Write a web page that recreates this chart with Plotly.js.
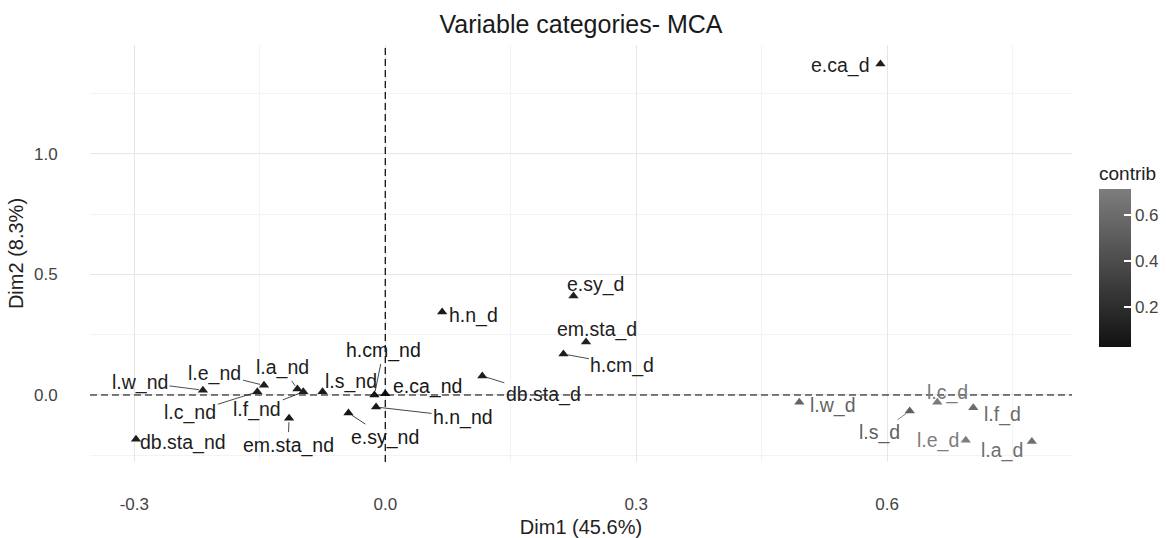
<!DOCTYPE html>
<html><head><meta charset="utf-8">
<script src="https://cdn.plot.ly/plotly-3.0.1.min.js"></script>
<style>html,body{margin:0;padding:0;background:#fff}</style>
</head><body><div id="chart" style="width:1166px;height:538px"></div>
<script>
// ---- data ----
const categories = ["e.ca_d","e.sy_d","em.sta_d","h.cm_d","h.n_d","db.sta_d","h.cm_nd","e.ca_nd","h.n_nd","e.sy_nd",
  "l.w_nd","l.e_nd","l.a_nd","l.c_nd","l.f_nd","l.s_nd","em.sta_nd","db.sta_nd",
  "l.w_d","l.s_d","l.c_d","l.f_d","l.e_d","l.a_d"];
const dim1 = [0.592,0.225,0.240,0.213,0.068,0.116,-0.013,0.000,-0.011,-0.044,
  -0.218,-0.145,-0.105,-0.153,-0.098,-0.075,-0.115,-0.298,
  0.495,0.627,0.660,0.703,0.694,0.773];
const dim2 = [1.373,0.411,0.220,0.170,0.344,0.079,0.000,0.005,-0.050,-0.075,
  0.020,0.040,0.025,0.013,0.013,0.013,-0.096,-0.184,
  -0.030,-0.066,-0.030,-0.053,-0.188,-0.193];
const contrib = [0.10,0.12,0.12,0.10,0.08,0.10,0.05,0.05,0.06,0.06,
  0.12,0.10,0.10,0.10,0.10,0.08,0.07,0.10,
  0.55,0.52,0.70,0.60,0.71,0.62];
const xTickVals = [-0.3,0.0,0.3,0.6], xTickText = ["-0.3","0.0","0.3","0.6"];
const yTickVals = [0.0,0.5,1.0], yTickText = ["0.0","0.5","1.0"];
const cbTickVals = [0.2,0.4,0.6], cbTickText = ["0.2","0.4","0.6"];

// ---- label placement (pixel offsets, repel-style) ----
const labelDx = [-40,22,11,59,31,61,9,42,87,37,-63,-49,-15,-67,-46,28,-1,47,34,-30,10,29,-28,-30];
const labelDy = [1,-11,-12,11,3,19,-44,-7,10,24,-8,-12,-21,21,18,-10,27,3,3,22,-10,7,0,9];
const hasSegment = [0,0,0,1,0,1,1,0,1,1,1,1,1,1,1,0,1,0,0,1,0,0,0,0];

// ---- styles ----
const FONT = "Liberation Sans, Arial, sans-serif";
const cmin = 0.026, cmax = 0.713;
const lowC = [18,18,18], highC = [125,125,125];
const rgb = c => "rgb(" + c.map(Math.round).join(",") + ")";
function colorFor(v){
  let t = Math.max(0, Math.min(1, (v - cmin) / (cmax - cmin)));
  return rgb(lowC.map((l,i)=> l + (highC[i]-l)*t));
}

const trace = {
  type: "scatter", mode: "markers",
  x: dim1, y: dim2, text: categories,
  marker: {
    symbol: "triangle-up", size: 9,
    color: contrib, cmin: cmin, cmax: cmax,
    colorscale: [[0, rgb(lowC)], [1, rgb(highC)]],
    showscale: true,
    colorbar: {
      title: {text: "contrib", side: "top", font: {family: FONT, size: 19, color: "#222"}},
      x: 1.0275, xanchor: "left", xpad: 0, ypad: 0,
      y: 0.2758, yanchor: "bottom",
      thickness: 32, thicknessmode: "pixels",
      len: 184, lenmode: "pixels",
      outlinewidth: 0,
      tickvals: cbTickVals, ticktext: cbTickText,
      ticks: "inside", ticklen: 7, tickcolor: "#ffffff", tickwidth: 1.5,
      ticklabelposition: "outside",
      tickfont: {family: FONT, size: 17, color: "#444"}
    },
    line: {width: 0}
  },
  hoverinfo: "text+x+y", showlegend: false
};

const annotations = categories.map((n,i)=>({
  x: dim1[i], y: dim2[i], xref: "x", yref: "y",
  text: n, showarrow: true,
  ax: labelDx[i], ay: labelDy[i], axref: "pixel", ayref: "pixel",
  arrowhead: 0, arrowwidth: 0.8, standoff: 4,
  arrowcolor: hasSegment[i] ? colorFor(contrib[i]) : "rgba(0,0,0,0)",
  font: {family: FONT, size: 19.5, color: colorFor(contrib[i])}
}));

const layout = {
  width: 1166, height: 538,
  margin: {l: 90, r: 94, t: 45, b: 76, autoexpand: false},
  paper_bgcolor: "#ffffff", plot_bgcolor: "#ffffff",
  font: {family: FONT, color: "#222"},
  title: {text: "Variable categories- MCA", x: 0.5, xanchor: "center", xref: "paper",
          y: 0.955, yanchor: "middle", font: {family: FONT, size: 25, color: "#1a1a1a"}},
  xaxis: {
    range: [-0.353, 0.821], tickvals: xTickVals, ticktext: xTickText,
    showgrid: true, gridcolor: "#e6e6e6", gridwidth: 1,
    minor: {dtick: 0.15, tick0: 0.15, showgrid: true, gridcolor: "#f3f3f3", gridwidth: 1},
    zeroline: false, showline: false,
    ticks: "outside", ticklen: 27, tickcolor: "rgba(0,0,0,0)",
    tickfont: {family: FONT, size: 17, color: "#444"},
    title: {text: "Dim1 (45.6%)", standoff: 6, font: {family: FONT, size: 20, color: "#222"}}
  },
  yaxis: {
    range: [-0.278, 1.452], tickvals: yTickVals, ticktext: yTickText,
    showgrid: true, gridcolor: "#e6e6e6", gridwidth: 1,
    minor: {dtick: 0.25, tick0: 0.25, showgrid: true, gridcolor: "#f3f3f3", gridwidth: 1},
    zeroline: false, showline: false,
    ticks: "outside", ticklen: 28, tickcolor: "rgba(0,0,0,0)",
    tickfont: {family: FONT, size: 17, color: "#444"},
    title: {text: "Dim2 (8.3%)", standoff: 4, font: {family: FONT, size: 20, color: "#222"}}
  },
  shapes: [
    {type: "line", xref: "x", yref: "paper", x0: 0, x1: 0, y0: 0, y1: 1,
     line: {color: "#000", width: 1.2, dash: "7px,4px"}},
    {type: "line", xref: "paper", yref: "y", x0: 0, x1: 1, y0: 0, y1: 0,
     line: {color: "#000", width: 1.2, dash: "7px,4px"}}
  ],
  annotations: annotations
};

Plotly.newPlot("chart", [trace], layout, {displayModeBar: false, staticPlot: true});
</script></body></html>
